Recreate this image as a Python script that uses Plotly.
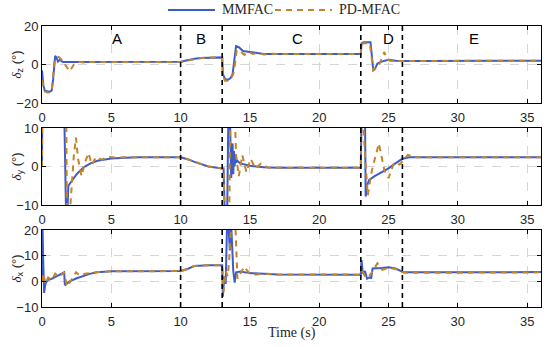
import plotly.graph_objects as go

# ---------------- data ----------------
phase_bounds = [10, 13, 23, 26]
phase_labels = ["A", "B", "C", "D", "E"]
phase_label_t = [5.4, 11.5, 18.4, 25.0, 31.2]

x_ticks = [0, 5, 10, 15, 20, 25, 30, 35]
series_names = ["MMFAC", "PD-MFAC"]

# delta_z
t_z_mm = [0, 0.1, 0.2, 0.4, 0.6, 0.7, 0.8, 0.9, 0.95, 1.05, 1.15, 1.3, 1.5, 2, 5, 9.9, 10.0, 10.5, 11, 11.5, 12, 13.0,
          13.05, 13.2, 13.4, 13.6, 13.75, 13.85, 14.0, 14.2, 14.5, 15, 15.5, 16, 17, 23.0, 23.05, 23.2, 23.7, 23.8,
          23.9, 24.0, 24.2, 24.5, 25, 25.5, 26, 27, 36]
z_mm = [-3, -11, -13.5, -14, -14, -13.5, -8, 2, 4.5, 3.5, 1.5, 2.5, 1.3, 1.3, 1.3, 1.3, 1.4, 2.2, 3.0, 3.4, 3.6, 3.7,
        -5, -7.5, -8, -7, -5, 0, 9.5, 9, 7, 6.5, 6, 5.5, 5.5, 5.5, 11, 11.5, 11.5, 5,
        -3, -2.5, 0.5, 1.5, 2.5, 2, 1.8, 1.8, 2.0]
t_z_pd = [0, 0.1, 0.2, 0.4, 0.6, 0.7, 0.8, 0.9, 1.0, 1.2, 1.4, 1.6, 1.8, 2.0, 2.3, 2.6, 3.0, 3.5, 5, 10, 10.5, 11,
          11.5, 12, 13, 13.05, 13.2, 13.4, 13.6, 13.8, 13.9, 14.05, 14.3, 14.6, 14.9, 15.2, 15.6, 16, 16.5, 17, 23,
          23.05, 23.2, 23.65, 23.75, 23.9, 24.1, 24.3, 24.5, 24.7, 24.85, 25.1, 25.5, 26, 27, 36]
z_pd = [-8, -12, -14, -14.5, -14.5, -14, -6, 2, 3.5, 4, 2.5, 0.5, -2, -3.5, 0, 1.5, 1, 1.3, 1.3, 1.3, 2.0, 2.9,
        3.4, 3.6, 3.6, -6, -8.5, -8.5, -7.5, -5, -1, 7.5, 7, 5, 6.5, 5.5, 6, 5.2, 5.6, 5.5, 5.5,
        10.5, 11, 11, 4, -3, -2, -0.5, 3, 6.5, 3, 2, 1.8, 1.8, 1.9, 2.0]

# delta_y
t_y_mm = [0, 0.02, 1.55, 1.6, 1.75, 1.8, 1.9, 2.1, 2.5, 3, 3.5, 4, 5, 6, 7, 10, 10.5, 11, 11.5, 12, 13, 13.1, 13.2,
          13.35, 13.45, 13.55, 13.65, 13.75, 13.8, 13.85, 13.9, 13.95, 14.0, 14.1, 14.3, 14.6, 15, 16, 17, 23,
          23.05, 23.3, 23.35, 23.45, 23.6, 24, 24.5, 25, 25.5, 26, 26.5, 27, 36]
y_mm = [0, 15, 15, 15, -15, -15, -5, -4, -2, -0.2, 0.8, 1.5, 2.1, 2.3, 2.4, 2.4, 1.9, 1.2, 0.5, 0, -0.5, -0.5, -15,
        -15, 15, 15, -3, 6, -2, 4, 0, 3, 1, 1.5, 0.8, 0.6, 0.2, -0.2, -0.3, -0.3,
        15, 15, -7.8, -5, -3.5, -2.5, -1.5, -0.5, 0.8, 2.0, 2.4, 2.4, 2.4]
t_y_pd = [0, 0.02, 1.7, 1.75, 1.8, 2.0, 2.05, 2.3, 2.45, 2.6, 2.85, 3.1, 3.35, 3.6, 3.9, 4.3, 4.8, 5.5, 6, 10, 10.5,
          11, 11.5, 12, 13, 13.1, 13.2, 13.5, 13.6, 13.9, 14.0, 14.2, 14.45, 14.75, 15.05, 15.4, 15.8, 16.3, 17, 23,
          23.05, 23.15, 23.5, 23.8, 24.3, 24.7, 25.0, 25.4, 25.8, 26.4, 27, 36]
y_pd = [0, 15, 15, 15, -15, -15, -10, 3, 7.5, 2, -2.5, 1, 3.5, 0.5, 2.5, 1.8, 2.5, 2.3, 2.4, 2.4, 1.9,
        1.2, 0.5, 0, -0.5, -0.5, -15, -15, 15, 15, 3, -2.5, 3, -1.5, 2, -0.5, 0.8, -0.3, -0.3, -0.3,
        12, 12, -7.5, -1, 6, -1, -3, 1, 0.5, 3, 2.4, 2.4]

# delta_x
t_x_mm = [0, 0.04, 0.08, 0.15, 0.25, 0.4, 0.7, 1.0, 1.3, 1.6, 1.65, 1.8, 2.0, 2.5, 3, 3.5, 4, 5, 10, 10.5, 11, 12,
          13, 13.05, 13.15, 13.25, 13.35, 13.45, 13.55, 13.65, 13.8, 13.9, 14.0, 14.3, 15, 16, 17, 23, 23.05, 23.15,
          23.3, 23.45, 23.6, 23.75, 23.85, 24.5, 25, 25.5, 26, 26.1, 36]
x_mm = [0, 22, 10, -4.5, -1, 0.5, 1, 1.8, 2.8, 3.5, -1.5, -1, 0, 1.2, 2.2, 3, 3.5, 3.9, 4.0, 4.8, 6, 6.3,
        6.3, -6, 2, -1, 22, 22, 12, 22, 4, -0.5, 3.5, 3.8, 3.2, 3, 2.7, 2.6, 8.3, 3,
        4, 1, 1.5, 1.3, 5, 5.2, 5.5, 5, 4, 3.5, 3.6]
t_x_pd = [0, 0.1, 0.25, 0.45, 0.7, 0.95, 1.15, 1.4, 1.6, 1.8, 2.0, 2.2, 2.45, 2.75, 3.1, 3.5, 4, 5, 10, 10.5, 11, 12,
          13, 13.1, 13.25, 13.4, 13.5, 13.65, 13.95, 14.1, 14.3, 14.6, 14.9, 15.3, 16, 17, 23, 23.1, 23.3, 23.55,
          23.8, 24.2, 24.55, 24.9, 25.3, 25.7, 26, 26.3, 36]
x_pd = [0, 3, -1, 1.5, 0.5, 3, 2, 2.5, 3.5, -2, -0.5, 1.5, 3.5, 2.2, 3, 3.2, 3.6, 3.9, 4.0, 4.8, 6, 6.3,
        6.3, -4, 4, 2, 8, 22, 22, 1, 3, 5.7, 3.5, 2.5, 3, 2.7, 2.6, 4, 2, 1.5,
        3.5, 7, 4.5, 5, 5, 4.5, 3.5, 3.3, 3.5]

# ---------------- figure ----------------
W, H = 550, 347
BLUE = "rgb(62,92,200)"
ORANGE = "rgb(196,132,44)"
DASH = "6px,5px"

panels = [
    dict(t_mm=t_z_mm, v_mm=z_mm, t_pd=t_z_pd, v_pd=z_pd, yr=[-20, 20], yt=[-20, 0, 20], sub="z", top=26, bot=103),
    dict(t_mm=t_y_mm, v_mm=y_mm, t_pd=t_y_pd, v_pd=y_pd, yr=[-10, 10], yt=[-10, 0, 10], sub="y", top=128, bot=205),
    dict(t_mm=t_x_mm, v_mm=x_mm, t_pd=t_x_pd, v_pd=x_pd, yr=[-10, 20], yt=[-10, 0, 10, 20], sub="x", top=230, bot=307),
]

fig = go.Figure()
xl, xr = 42, 541
tick_font = dict(family="Liberation Sans, Arial", size=13, color="#262626")

for i, p in enumerate(panels):
    n = i + 1
    xa = "x" if n == 1 else f"x{n}"
    ya = "y" if n == 1 else f"y{n}"
    fig.add_trace(go.Scatter(x=p["t_mm"], y=p["v_mm"], mode="lines", name=series_names[0],
                             line=dict(color=BLUE, width=2), xaxis=xa, yaxis=ya, showlegend=False))
    fig.add_trace(go.Scatter(x=p["t_pd"], y=p["v_pd"], mode="lines", name=series_names[1],
                             line=dict(color=ORANGE, width=2, dash=DASH), xaxis=xa, yaxis=ya, showlegend=False))
    ax = dict(range=[0, 36], tickvals=x_ticks, showline=True, mirror="ticks", linecolor="black", linewidth=1,
              ticks="inside", ticklen=4, tickcolor="black", showgrid=True, gridcolor="#d6d6d6", griddash="dash",
              gridwidth=1, zeroline=False, tickfont=tick_font, domain=[xl / W, xr / W],
              anchor=ya, automargin=False, ticklabelstandoff=2)
    ay = dict(range=p["yr"], tickvals=p["yt"], showline=True, mirror="ticks", linecolor="black", linewidth=1,
              ticks="inside", ticklen=4, tickcolor="black", showgrid=True, gridcolor="#d6d6d6", griddash="dash",
              gridwidth=1, zeroline=False, tickfont=tick_font,
              domain=[(H - p["bot"]) / H, (H - p["top"]) / H], anchor=xa, automargin=False)
    fig.update_layout(**{("xaxis" if n == 1 else f"xaxis{n}"): ax, ("yaxis" if n == 1 else f"yaxis{n}"): ay})

    for b in phase_bounds:
        fig.add_shape(type="line", xref=xa, yref=f"{ya} domain", x0=b, x1=b, y0=0, y1=1,
                      line=dict(color="black", width=1.6, dash="5px,4px"))
    # y-axis label
    fig.add_annotation(x=17 / W, y=(H - (p["top"] + p["bot"]) / 2) / H, xref="paper", yref="paper",
                       text=f"<span style='font-family:Liberation Serif'><i>δ</i></span><sub>{p['sub']}</sub> (°)",
                       textangle=-90, showarrow=False, xanchor="center", yanchor="middle",
                       font=dict(family="Liberation Sans, Arial", size=13, color="#262626"))

# x-axis title
fig.add_annotation(x=((xl + xr) / 2) / W, y=(H - 333) / H, xref="paper", yref="paper", text="Time (s)",
                   showarrow=False, xanchor="center", yanchor="middle",
                   font=dict(family="Liberation Serif, Times New Roman", size=14, color="#262626"))

for lab, tx in zip(phase_labels, phase_label_t):
    fig.add_annotation(x=tx, y=(H - 38) / H, xref="x", yref="paper", text=lab, showarrow=False,
                       xanchor="center", yanchor="middle",
                       font=dict(family="Liberation Sans, Arial", size=15, color="black"))

# legend (drawn at the top, like the reference)
leg_y = (H - 10) / H
leg_items = [(series_names[0], BLUE, "solid", 168, 215), (series_names[1], ORANGE, DASH, 275, 332)]
for name, col, dash, x0, x1 in leg_items:
    fig.add_shape(type="line", xref="paper", yref="paper", x0=x0 / W, x1=x1 / W, y0=leg_y, y1=leg_y,
                  line=dict(color=col, width=2, dash=dash))
    fig.add_annotation(x=(x1 + 5) / W, y=leg_y, xref="paper", yref="paper", text=name, showarrow=False,
                       xanchor="left", yanchor="middle",
                       font=dict(family="Liberation Serif, Times New Roman", size=14, color="#262626"))

fig.update_layout(
    width=W, height=H, margin=dict(l=0, r=0, t=0, b=0, autoexpand=False),
    paper_bgcolor="white", plot_bgcolor="white",
    showlegend=False,
)

fig.write_html("out.html", config={"displayModeBar": False},
               post_script="document.body.style.margin='0';document.body.style.padding='0';"
                           "document.documentElement.style.overflow='hidden';")
